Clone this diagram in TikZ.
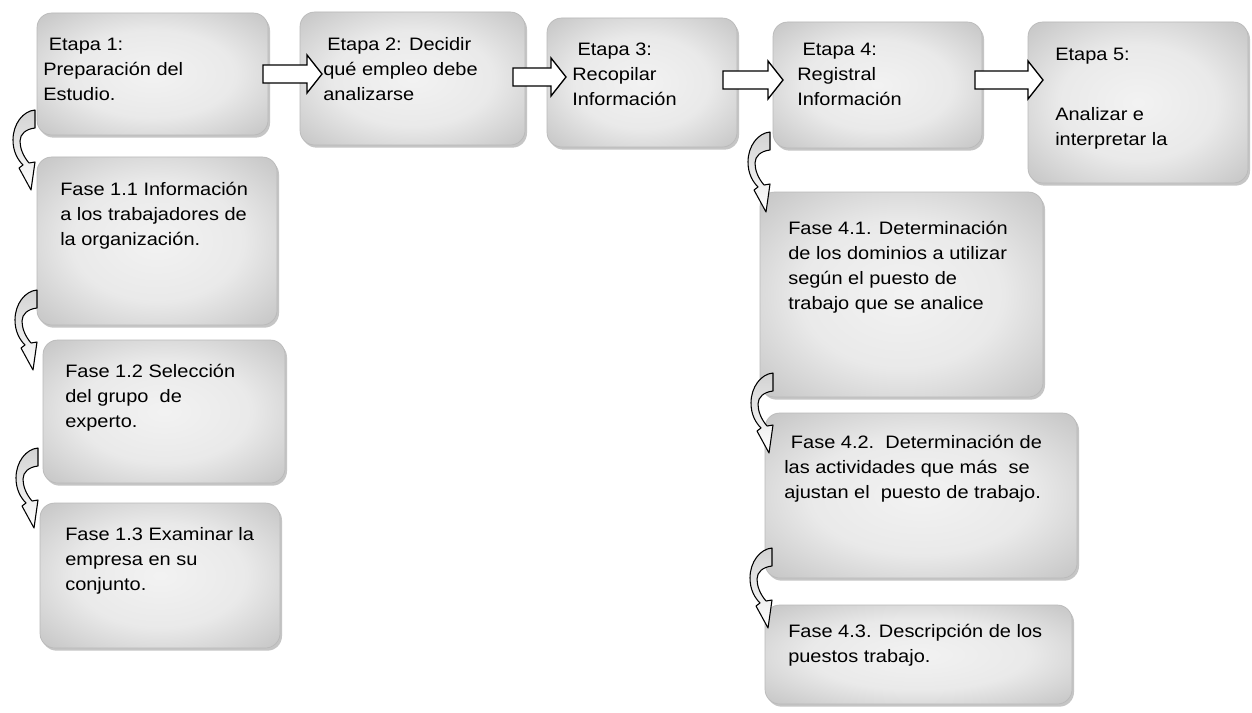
\documentclass[tikz,border=0pt]{standalone}
\usepackage{fontspec}
\setmainfont{Liberation Sans}[FakeStretch=1.11]
\usetikzlibrary{calc,shadows}
\pgfdeclareradialshading{boxrad}{\pgfpoint{0bp}{0bp}}{color(0bp)=(gray!10); color(18bp)=(gray!17); color(32bp)=(gray!40); color(42bp)=(gray!55); color(50bp)=(gray!60)}
\tikzset{
 box/.style={rectangle, rounded corners=11pt, inner sep=0pt, outer sep=0pt, draw=gray!55, line width=0.5pt, shade, shading=boxrad, drop shadow={shadow xshift=1.5pt, shadow yshift=-2pt, fill=gray!75, opacity=0.6}},
 txt/.style={anchor=north west, inner sep=0pt, align=left, font=\fontsize{13.5}{18.75}\selectfont, yshift=13.1pt},
 barrow/.style={draw=black, fill=white, line width=1pt, line join=miter},
 carrow/.style={draw=black, line width=0.8pt, top color=gray!35, bottom color=white, line join=round},
}
\newcommand\boxnode[5]{\node[box, minimum width={(#4-#2)*0.75pt}, minimum height={(#5-#3)*0.75pt}] (#1) at ({(#2+#4)/2},{(#3+#5)/2}) {};}
\newcommand\bendarrow[3]{%
 \draw[carrow, shift={($(#1.south west)+(#2,#3)$)}] (0,0) .. controls (-12,1) and (-22,14) .. (-22,30) .. controls (-22,42) and (-17,50) .. (-12,55) -- (-16,58) -- (-4,80) -- (0,52) -- (-6,53) .. controls (-12,46) and (-15,38) .. (-15,31) .. controls (-15,24) and (-9,19) .. (0,18) -- cycle;}
\newcommand\blockarrow[5]{%
 \coordinate (#1#2s) at ($(#1.east |- 0,#5)+(#3,0)$);
 \coordinate (#1#2t) at ($(#2.west |- 0,#5)+(#4,0)$);
 \draw[barrow] ($(#1#2s)+(0,-9)$) -- ($(#1#2t)+(-15,-9)$) -- ($(#1#2t)+(-15,-19)$) -- (#1#2t) -- ($(#1#2t)+(-15,19)$) -- ($(#1#2t)+(-15,9)$) -- ($(#1#2s)+(0,9)$) -- cycle;}
\begin{document}
\begin{tikzpicture}[x=0.75pt,y=-0.75pt]
\fill[white] (0,0) rectangle (1252,713);
\useasboundingbox (0,0) rectangle (1252,713);
% boxes
\boxnode{e1}{37}{13}{268}{135}
\boxnode{e2}{300}{12}{525}{145}
\boxnode{e3}{547}{18}{737}{147}
\boxnode{e4}{773}{22}{982}{148}
\boxnode{e5}{1028}{22}{1248}{183}
\boxnode{f11}{37}{157}{277}{325}
\boxnode{f12}{43}{340}{285}{483}
\boxnode{f13}{40}{503}{280}{648}
\boxnode{f41}{760}{192}{1043}{397}
\boxnode{f42}{765}{413}{1077}{578}
\boxnode{f43}{765}{605}{1072}{704}
% texts
\node[txt] (t1) at (43,50) {\strut\ Etapa 1:\\Preparación del\\Estudio.};
\node[txt] (t2) at (323,50) {\strut\hspace{3pt}Etapa 2: Decidir\\qué empleo debe\\analizarse};
\node[txt] (t3) at (572,55) {\strut\hspace{4pt}Etapa 3:\\Recopilar\\Información};
\node[txt] (t4) at (797,55) {\strut\hspace{4pt}Etapa 4:\\Registral\\Información};
\node[txt] (t5) at (1055,60) {\strut Etapa 5:\\[26.25pt]Analizar e\\interpretar la};
\node[txt] (t11) at (60,195) {\strut Fase 1.1 Información\\a los trabajadores de\\la organización.};
\node[txt] (t12) at (65,377) {\strut Fase 1.2 Selección\\del grupo\ \ de\\experto.};
\node[txt] (t13) at (65,540) {\strut Fase 1.3 Examinar la\\empresa en su\\conjunto.};
\node[txt] (t41) at (788,234) {\strut Fase 4.1. Determinación\\de los dominios a utilizar\\según el puesto de\\trabajo que se analice};
\node[txt] (t42) at (784,448) {\strut\hspace{5pt}Fase 4.2.\ \ Determinación de\\las actividades que más\ \ se\\ajustan el\ \ puesto de trabajo.};
\node[txt] (t43) at (788,637) {\strut Fase 4.3. Descripción de los\\puestos trabajo.};
% block arrows
\blockarrow{e1}{e2}{-5}{22}{74}
\blockarrow{e2}{e3}{-12}{19}{77}
\blockarrow{e3}{e4}{-14}{10}{80}
\blockarrow{e4}{e5}{-7}{15}{80}
% bending arrows
\bendarrow{e1}{-2}{-25}
\bendarrow{f11}{0}{-35}
\bendarrow{f12}{-5}{-35}
\bendarrow{e4}{-3}{-16}
\bendarrow{f41}{13}{-24}
\bendarrow{f42}{7}{-30}
\end{tikzpicture}
\end{document}
